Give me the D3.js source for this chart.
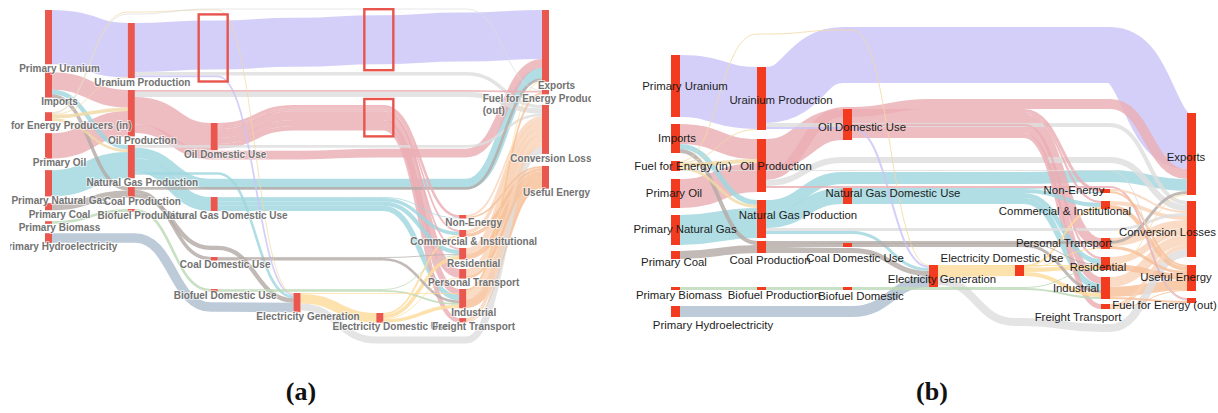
<!DOCTYPE html>
<html><head><meta charset="utf-8">
<script src="https://cdn.jsdelivr.net/npm/d3@7"></script>
<style>body{margin:0;background:#fff}svg{display:block}</style>
</head><body>
<svg id="chart" width="1218" height="413"></svg>
<script>
// ---------------- DATA ----------------
const nodeKeys = ["PU","IM","FI","PO","PG","PC","PB","PH","UP","OP","GP","CP","BP","OD","GD","CD","BD","EG","ED","NE","CI","RE","PT","IN","FT","EX","FO","CL","UE"];
const nodeColumns = [0,0,0,0,0,0,0,0,1,1,1,1,1,2,2,2,2,3,4,5,5,5,5,5,5,6,6,6,6];
const labelsA = ["Primary Uranium","Imports","Fuel for Energy Producers (in)","Primary Oil","Primary Natural Gas","Primary Coal","Primary Biomass","Primary Hydroelectricity","Uranium Production","Oil Production","Natural Gas Production","Coal Production","Biofuel Production","Oil Domestic Use","Natural Gas Domestic Use","Coal Domestic Use","Biofuel Domestic Use","Electricity Generation","Electricity Domestic Use","Non-Energy","Commercial & Institutional","Residential","Personal Transport","Industrial","Freight Transport","Exports","Fuel for Energy Producers|(out)","Conversion Losses","Useful Energy"];
const labelsB = ["Primary Uranium","Imports","Fuel for Energy (in)","Primary Oil","Primary Natural Gas","Primary Coal","Primary Biomass","Primary Hydroelectricity","Urainium Production","Oil Production","Natural Gas Production","Coal Production","Biofuel Production","Oil Domestic Use","Natural Gas Domestic Use","Coal Domestic Use","Biofuel Domestic","Electricity Generation","Electricity Domestic Use","Non-Energy","Commercial & Institutional","Residential","Personal Transport","Industrial","Freight Transport","Exports","Fuel for Energy (out)","Conversion Losses","Useful Energy"];

const linkSources = ["PU","IM","IM","IM","FI","FI","FI","FI","FI","PO","PG","PC","PB","PH",
  "UP","UP","UP","OP","OP","OP","OP","GP","GP","GP","GP","CP","CP","CP","BP",
  "OD","OD","OD","OD","OD","OD","GD","GD","GD","GD","CD","CD","BD","BD",
  "EG","EG","EG","ED","ED","ED","ED",
  "NE","NE","CI","CI","RE","RE","PT","PT","IN","IN","IN","FT","FT"];
const linkTargets = ["UP","OP","GP","CP","UP","OP","GP","EG","FO","OP","GP","CP","BP","EG",
  "EX","EG","CL","OD","EX","CL","FO","GD","EX","CL","EG","CD","EG","EX","BD",
  "NE","CI","RE","PT","IN","FT","NE","CI","RE","IN","IN","RE","RE","IN",
  "ED","CL","EX","RE","CI","IN","PT",
  "UE","CL","UE","CL","UE","CL","UE","CL","UE","CL","FO","UE","CL"];
const linkValues = [62,20,5,4,1,4,3,1,1,29,30,8,3,11,
  56,2,4,31,10,6,2,16,12,3,3,4,5,3,3,
  3,2,2,10,7,5,1,4,5,6,3,1,1,2,
  11,8,1,4,2,4,1,
  2,2,4,4,6,7,3,8,10,10,2,1,4];
const linkTypes = ["uranium","oil","gas","coal","fuel","fuel","fuel","fuel","loss","oil","gas","coal","biomass","hydro",
  "uranium","uranium","loss","oil","oil","loss","oil","gas","gas","loss","gas","coal","coal","coal","biomass",
  "oil","oil","oil","oil","oil","oil","gas","gas","gas","gas","coal","coal","biomass","biomass",
  "electricity","loss","electricity","electricity","electricity","electricity","electricity",
  "useful","enduse","useful","enduse","useful","enduse","useful","enduse","useful","enduse","useful","useful","enduse"];
const panelTitles = ["(a)","(b)"];

// ---------------- STYLE / LAYOUT ----------------
const typeColor = d3.scaleOrdinal()
  .domain(["uranium","oil","gas","coal","biomass","hydro","electricity","loss","useful","enduse","fuel"])
  .range(["#cbc4f6","#eaaeb4","#9fd7de","#b5aba7","#bcd9b6","#aebfcf","#fddc9c","#dedede","#f6bf98","#f9d3b8","#f1d9a6"]);

// route: "late" (default, hold source level), "early", "linear", array = lane centre per intermediate column,
// number = hold at source level shifted by that many px
const panels = [
 { xLeft:45, xRight:542, nodeWidth:7, unit:0.875, nodeColor:"#e9574f", clip:[10,591],
   order:[["PU","IM","FI","PO","PG","PC","PB","PH"],["UP","OP","GP","CP","BP"],["OD","GD","CD","BD"],["EG"],["ED"],["NE","CI","RE","PT","IN","FT"],["EX","FO","CL","UE"]],
   pad:{PU:10,IM:8,FI:14.6,PO:12.2,PG:11.6,PC:6.8,PB:11,PH:9.4,UP:23,OP:11.9,GP:8.6,CP:8.8,BP:11.5,OD:123,GD:46.9,CD:46,BD:28.5,EG:293,ED:313,NE:215,CI:11.5,RE:11,PT:9.6,IN:10.4,FT:9.8,EX:10,FO:8.2,CL:10.6,UE:12},
   route:{"UP>EX":"linear","CP>EG":"linear","PH>EG":[238,307],"FI>EG":[12,10],"FI>FO":[14,9,9,9,9],"EG>CL":[340,340],
     "OP>EX":[155,155,153,153],"GP>EX":[184,184,184,184],
     "OD>NE":-18,"OD>CI":-18,"OD>RE":-18,"OD>PT":-18,"OD>IN":-18,"OD>FT":-18},
   labels:labelsA, style:"a",
   boxes:[{ids:["UP>EX","UP>CL"],col:2},{ids:["UP>EX"],col:4},{src:"OD",col:4}],
   title:{x:301,y:394}
 },
 { xLeft:671, xRight:1187, nodeWidth:9, unit:1, nodeColor:"#f23b1f", clip:null,
   order:[["PU","IM","FI","PO","PG","PC","PB","PH"],["UP","OP","GP","CP","BP"],["OD","GD","CD","BD"],["EG"],["ED"],["NE","CI","PT","RE","IN","FT"],["EX","CL","UE","FO"]],
   pad:{PU:55,IM:7,FI:8,PO:8,PG:7,PC:6,PB:28,PH:16,UP:67,OP:9,GP:8,CP:3,BP:34,OD:109,GD:48,CD:39,BD:40,EG:265,ED:265,NE:189,CI:8,PT:29,RE:8,IN:7,FT:5,EX:113,CL:6,UE:8,FO:7},
   route:{"UP>EX":[55,55,55,55],"OP>EX":[112,104,104,104],"GP>EX":[178,178,178,176],"OP>CL":[160,160,160,160],"FI>EG":[34,30],"EG>CL":[322,328]},
   labels:labelsB, style:"b",
   labelOffset:{PU:[9.5,1],IM:[1.5,0],FI:[7.5,1],PO:[-1.5,0.5],PG:[9.5,0],PC:[-1.5,8],PB:[3.5,7.5],PH:[37.5,14.5],
     UP:[19.5,2.5],OP:[14.5,1.5],GP:[36.5,-3],CP:[8.5,14],BP:[12.5,7.5],OD:[14.5,3.5],GD:[45.5,-2],CD:[7.5,14],BD:[13.5,8.5],
     EG:[8.5,4],ED:[-17.5,-11.5],NE:[-31.5,0],CI:[-40.5,7],PT:[-41.5,0],RE:[-7.5,4.5],IN:[-29.5,1],FT:[-27.5,11.5],
     EX:[-5.5,4],CL:[-24,4],UE:[-15.5,0],FO:[-27,5.5]},
   title:{x:932,y:394}
 }
];

const svg = d3.select("#chart");

function build(p){
  const y = d3.scaleLinear().domain([0,1]).range([0,p.unit]);
  const x = d3.scaleLinear().domain([0,6]).range([p.xLeft,p.xRight]);
  const nodes = new Map();
  nodeKeys.forEach((k,i)=>nodes.set(k,{key:k,col:nodeColumns[i],label:p.labels[i],ins:[],outs:[]}));
  const links = linkSources.map((s,i)=>({source:nodes.get(s),target:nodes.get(linkTargets[i]),value:linkValues[i],type:linkTypes[i],id:s+">"+linkTargets[i]}));
  links.forEach(l=>{l.source.outs.push(l);l.target.ins.push(l);l.w=y(l.value);l.route=(l.id in p.route)?p.route[l.id]:"late";});
  nodes.forEach(n=>{n.value=Math.max(d3.sum(n.ins,l=>l.value),d3.sum(n.outs,l=>l.value));n.h=y(n.value);n.x0=x(n.col);n.x1=n.x0+p.nodeWidth;});
  p.order.forEach(col=>{let cur=0;col.forEach(k=>{const n=nodes.get(k);cur+=p.pad[k];n.y0=cur;n.y1=cur+n.h;cur=n.y1;});});
  const outKey=l=>Array.isArray(l.route)?l.route[0]:l.target.y0;
  const inKey=l=>Array.isArray(l.route)?l.route[l.route.length-1]:l.source.y0;
  nodes.forEach(n=>{
    n.outs.sort((a,b)=>outKey(a)-outKey(b));
    let c=n.y0;n.outs.forEach(l=>{l.ys=c+l.w/2;c+=l.w;});
    n.ins.sort((a,b)=>inKey(a)-inKey(b));
    c=n.y0;n.ins.forEach(l=>{l.yt=c+l.w/2;c+=l.w;});
  });
  links.forEach(l=>{
    const cs=l.source.col,ct=l.target.col;const pts=[];
    for(let c=cs+1;c<ct;c++){
      let yy;
      if(Array.isArray(l.route))yy=l.route[c-cs-1];
      else if(typeof l.route==="number")yy=l.ys+l.route;
      else if(l.route==="early")yy=l.yt;
      else if(l.route==="linear")yy=l.ys+(l.yt-l.ys)*(c-cs)/(ct-cs);
      else yy=l.ys;
      pts.push({col:c,x0:x(c),x1:x(c)+p.nodeWidth,y:yy});
    }
    l.pts=pts;
    const path=d3.path();let px=l.source.x1,py=l.ys;path.moveTo(px,py);
    pts.concat([{x0:l.target.x0,x1:null,y:l.yt}]).forEach(pt=>{
      const xm=(px+pt.x0)/2;
      path.bezierCurveTo(xm,py,xm,pt.y,pt.x0,pt.y);
      if(pt.x1!==null){path.lineTo(pt.x1,pt.y);px=pt.x1;}else px=pt.x0;
      py=pt.y;
    });
    l.d=path.toString();
  });
  return {nodes:[...nodes.values()],links,x,y,nodeMap:nodes};
}

panels.forEach((p,pi)=>{
  const L=build(p);
  const g=svg.append("g");
  let inner=g;
  if(p.clip){
    svg.append("clipPath").attr("id","clip"+pi).append("rect").attr("x",p.clip[0]).attr("y",0).attr("width",p.clip[1]-p.clip[0]).attr("height",370);
    inner=g.append("g").attr("clip-path",`url(#clip${pi})`);
  }
  inner.append("g").selectAll("path").data(L.links.slice().sort((a,b)=>b.w-a.w)).join("path")
    .attr("d",d=>d.d).attr("fill","none").attr("stroke",d=>typeColor(d.type))
    .attr("stroke-width",d=>Math.max(0.8,d.w)).attr("stroke-opacity",0.82);
  inner.append("g").selectAll("rect").data(L.nodes).join("rect")
    .attr("x",d=>d.x0).attr("y",d=>d.y0).attr("width",p.nodeWidth).attr("height",d=>Math.max(1.5,d.h))
    .attr("fill",p.nodeColor);
  const lg=inner.append("g");
  if(p.style==="a"){
    lg.attr("font-family","'Liberation Sans',Arial,sans-serif").attr("font-size",10).attr("font-weight","bold").attr("fill","#727272");
    L.nodes.forEach(n=>{
      const cx=(n.x0+n.x1)/2;
      const parts=n.label.split("|");
      const t=lg.append("text").attr("y",n.y1+5).attr("dominant-baseline","middle")
        .attr("stroke","#fff").attr("stroke-width",2).attr("stroke-opacity",0.6).attr("paint-order","stroke");
      if(parts.length===1){t.attr("x",cx+11).attr("text-anchor","middle").text(parts[0]);}
      else{
        const s1=t.append("tspan").text(parts[0]);
        const w=s1.node().getComputedTextLength();
        const x0=cx-w/2;
        s1.attr("x",x0);
        t.append("tspan").attr("x",x0).attr("dy",12).text(parts[1]);
      }
    });
    p.boxes.forEach(b=>{
      const sel=L.links.filter(l=>b.ids?b.ids.includes(l.id):l.source.key===b.src);
      const segs=sel.map(l=>{const pt=l.pts.find(q=>q.col===b.col);return pt?{y0:pt.y-l.w/2,y1:pt.y+l.w/2}:null;}).filter(Boolean);
      const y0=d3.min(segs,s=>s.y0)-6,y1=d3.max(segs,s=>s.y1)+6;
      const bx=L.x(b.col);
      g.append("rect").attr("x",bx-12).attr("y",y0).attr("width",p.nodeWidth+22).attr("height",y1-y0)
        .attr("fill","none").attr("stroke","#e8554d").attr("stroke-width",2.4);
    });
  } else {
    lg.attr("font-family","'Liberation Sans',Arial,sans-serif").attr("font-size",11.4).attr("fill","#1c1c1c");
    L.nodes.forEach(n=>{
      const o=p.labelOffset[n.key]||[0,0];
      lg.append("text").attr("x",(n.x0+n.x1)/2+o[0]).attr("y",(n.y0+n.y1)/2+o[1])
        .attr("text-anchor","middle").attr("dominant-baseline","middle").text(n.label);
    });
  }
  svg.append("text").attr("x",p.title.x).attr("y",p.title.y).attr("text-anchor","middle").attr("dominant-baseline","middle")
    .attr("font-family","'Liberation Serif','Times New Roman',serif").attr("font-weight","bold").attr("font-size",26)
    .attr("fill","#111").text(panelTitles[pi]);
});
</script>
</body></html>
